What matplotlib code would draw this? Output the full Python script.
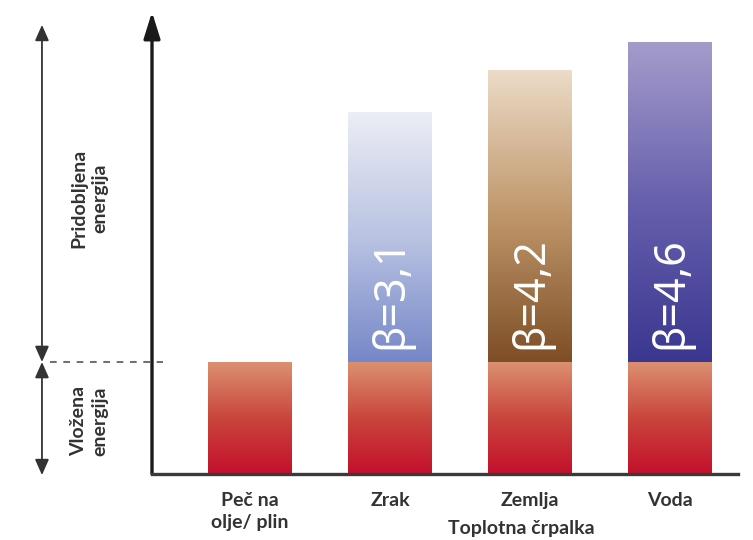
import numpy as np
import matplotlib
matplotlib.use("Agg")
import matplotlib.pyplot as plt
from matplotlib.colors import LinearSegmentedColormap

# energy in units of the input (electric / fuel) energy
categories = ["Peč na\nolje/ plin", "Zrak", "Zemlja", "Voda"]
input_energy = [1.0, 1.0, 1.0, 1.0]
gained_energy = [0.0, 2.23, 2.61, 2.86]
beta_labels = ["", "β=3,1", "β=4,2", "β=4,6"]

# gradient colours (top -> bottom)
red_grad = ["#dc9070", "#c9463c", "#c40f2c"]
gain_grads = [None,
              ["#eceef5", "#b9c3e2", "#7587c8"],
              ["#ecdcc8", "#bf966a", "#7e4e26"],
              ["#a59ccb", "#6660ad", "#3b3790"]]

fig = plt.figure(figsize=(7.53, 5.40), dpi=100)
ax = fig.add_axes([152 / 753, 66 / 540, 586 / 753, 462 / 540])

x = np.arange(len(categories))
width = 0.6
grad = np.linspace(1, 0, 256).reshape(-1, 1)


def gradient_bars(bars, colors_list):
    for patch, cols in zip(bars, colors_list):
        if cols is None or patch.get_height() <= 0:
            continue
        cmap = LinearSegmentedColormap.from_list("g", cols[::-1])
        x0, y0 = patch.get_x(), patch.get_y()
        im = ax.imshow(grad, cmap=cmap, aspect="auto", zorder=2,
                       extent=[x0, x0 + patch.get_width(), y0, y0 + patch.get_height()])
        im.set_clip_path(patch)


base = ax.bar(x, input_energy, width, color="none", edgecolor="none")
gradient_bars(base, [red_grad] * len(x))
top = ax.bar(x, gained_energy, width, bottom=input_energy, color="none", edgecolor="none")
gradient_bars(top, gain_grads)

for xi, lab, b in zip(x, beta_labels, input_energy):
    if lab:
        ax.text(xi + 0.01, b + 0.12, lab, rotation=90, ha="center", va="bottom",
                color="white", fontsize=31, family="Noto Sans", fontweight="light", zorder=3)

ax.set_xlim(-0.7, 3.486)
ax.set_ylim(0, 4.125)

axis_col = "#3a3a3a"
for s in ["top", "right", "left"]:
    ax.spines[s].set_visible(False)
ax.spines["bottom"].set_color(axis_col)
ax.spines["bottom"].set_linewidth(2.4)
ax.spines["bottom"].set_zorder(4)

# y axis with arrow head
ax.annotate("", xy=(0, 1.0), xytext=(0, 0), xycoords="axes fraction",
            arrowprops=dict(arrowstyle="-|>,head_length=1.6,head_width=0.5",
                            color="#1a1a1a", lw=2.4, shrinkA=0, shrinkB=0),
            annotation_clip=False)

text_kw = dict(family="Lato", fontweight="bold", color="#333333")

ax.set_yticks([])
ax.set_xticks(x)
ax.set_xticklabels(categories, fontsize=14, **text_kw)
for t in ax.get_xticklabels():
    t.set_linespacing(1.35)
ax.tick_params(axis="x", length=0, pad=13)
ax.text(1.94, -0.100, "Toplotna črpalka", transform=ax.get_xaxis_transform(),
        ha="center", va="top", fontsize=14, **text_kw)

# input / gained energy guides on the left
xa = -1.486
arrow_kw = dict(arrowstyle="<|-|>,head_length=0.95,head_width=0.42",
                color="#333333", lw=1.3, shrinkA=0, shrinkB=0)
ax.annotate("", xy=(xa, 4.01), xytext=(xa, 1.0), arrowprops=arrow_kw, annotation_clip=False)
ax.annotate("", xy=(xa, -0.01), xytext=(xa, 1.0), arrowprops=arrow_kw, annotation_clip=False)
ax.plot([-1.43, -0.62], [1.0, 1.0], ls=(0, (4, 4)), color="#555555", lw=1.2, clip_on=False)

ax.text(-1.15, 2.46, "Pridobljena\nenergija", rotation=90, ha="center", va="center",
        fontsize=14, linespacing=1.3, **text_kw)
ax.text(-1.15, 0.47, "Vložena\nenergija", rotation=90, ha="center", va="center",
        fontsize=14, linespacing=1.3, **text_kw)

fig.savefig("out.png", dpi=100)
